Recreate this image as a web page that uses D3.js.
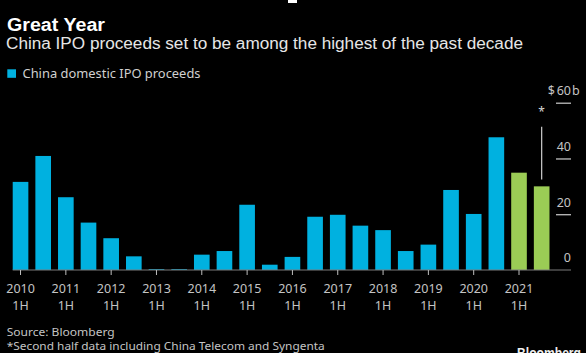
<!DOCTYPE html>
<html>
<head>
<meta charset="utf-8">
<script src="https://cdn.jsdelivr.net/npm/d3@7"></script>
<style>
  html, body { margin: 0; padding: 0; background: #000; }
  svg { display: block; font-family: "Noto Sans", "DejaVu Sans", sans-serif; }
</style>
</head>
<body>
<div id="chart"></div>
<script>
// half-year periods, 2010 1H .. 2021 2H
var years = ['2010', '2011', '2012', '2013', '2014', '2015', '2016', '2017', '2018', '2019', '2020', '2021'];
var halves = ['1H', '2H'];
// China domestic IPO proceeds, $ billions
var proceeds = [31.6, 40.9, 26.1, 17.0, 11.4, 4.9, 0.3, 0.3, 5.5, 6.8, 23.4, 1.9,
                4.7, 19.1, 19.8, 15.9, 14.3, 6.8, 9.1, 28.7, 20.1, 47.6, 34.9, 30.0];
// last two periods are drawn green (2021 + estimate)
var highlighted = ['2021 1H', '2021 2H'];
var yTicks = [0, 20, 40, 60];
// asterisk note over 2021 2H: line from..to, star on top
var noteRange = [32.5, 51.4];
var noteStar = 57.6;

var periods = [];
years.forEach(function(yr) {
  halves.forEach(function(h) { periods.push(yr + ' ' + h); });
});
var data = periods.map(function(p, i) { return { period: p, value: proceeds[i] }; });

var width = 586, height = 353;
var blue = '#00b1e0', green = '#9bcc55';
var labelGray = '#c4c4c4';

var svg = d3.select('#chart').append('svg')
  .attr('width', width)
  .attr('height', height)
  .style('background', '#000');

// scales
var x = d3.scaleBand()
  .domain(periods)
  .range([9.2, 553])
  .paddingInner(0.31)
  .paddingOuter(0.155);
var y = d3.scaleLinear()
  .domain([0, 60])
  .range([270, 102.7]);

// small mark at top edge
svg.append('rect').attr('x', 288).attr('y', 0).attr('width', 9).attr('height', 3).attr('fill', '#fff');

// headings
svg.append('text')
  .attr('x', 7).attr('y', 31)
  .attr('fill', '#fff')
  .style('font-family', '"Liberation Sans", Arial, sans-serif')
  .style('font-size', '18px').style('font-weight', 'bold')
  .attr('textLength', 98).attr('lengthAdjust', 'spacingAndGlyphs')
  .text('Great Year');
svg.append('text')
  .attr('x', 6).attr('y', 49.3)
  .attr('fill', '#e6e6e6')
  .style('font-family', '"Liberation Sans", Arial, sans-serif')
  .style('font-size', '16px')
  .attr('textLength', 517).attr('lengthAdjust', 'spacingAndGlyphs')
  .text('China IPO proceeds set to be among the highest of the past decade');

// legend
svg.append('rect')
  .attr('x', 7.3).attr('y', 69.3).attr('width', 8.7).attr('height', 8.5)
  .attr('fill', blue);
svg.append('text')
  .attr('x', 22.5).attr('y', 78.3)
  .attr('fill', '#d0d0d0')
  .style('font-size', '12.5px')
  .attr('textLength', 178).attr('lengthAdjust', 'spacingAndGlyphs')
  .text('China domestic IPO proceeds');

// bars
svg.append('g').attr('class', 'bars')
  .selectAll('rect').data(data)
  .enter()
  .append('rect')
  .attr('x', function(d) { return x(d.period); })
  .attr('width', x.bandwidth())
  .attr('y', function(d) { return y(d.value); })
  .attr('height', function(d) { return y(0) - y(d.value); })
  .attr('fill', function(d) { return highlighted.indexOf(d.period) >= 0 ? green : blue; });

// baseline
svg.append('line')
  .attr('x1', x(periods[0])).attr('x2', 571)
  .attr('y1', y(0)).attr('y2', y(0))
  .attr('stroke', '#7a7a7a').attr('stroke-width', 1.2);

// x axis: one tick per year at the 1H bar
var xAxis = d3.axisBottom(x)
  .tickValues(periods.filter(function(p) { return /1H$/.test(p); }))
  .tickSize(5)
  .tickFormat(function() { return ''; });
var gx = svg.append('g')
  .attr('transform', 'translate(0,' + y(0) + ')')
  .call(xAxis);
gx.select('.domain').remove();
gx.selectAll('.tick line').attr('stroke', '#bdbdbd');
gx.selectAll('.tick text').remove();
gx.selectAll('.tick').each(function(p) {
  var parts = p.split(' ');
  var g = d3.select(this);
  [0, 1].forEach(function(k) {
    g.append('text')
      .attr('x', 0).attr('y', k === 0 ? 23.3 : 40)
      .attr('fill', labelGray)
      .attr('text-anchor', 'middle')
      .style('font-size', '12.5px')
      .style('font-family', '"Noto Sans", sans-serif')
      .text(parts[k]);
  });
});

// y axis on the right: short lines with labels sitting above them
var yAxis = d3.axisLeft(y)
  .tickValues(yTicks)
  .tickSize(15)
  .tickFormat(d3.format('d'));
var gy = svg.append('g')
  .attr('transform', 'translate(571,0)')
  .call(yAxis);
gy.select('.domain').remove();
gy.selectAll('.tick line')
  .attr('stroke', '#cfcfcf')
  .attr('stroke-width', 1.2)
  .attr('display', function(d) { return d === 0 ? 'none' : null; });
gy.selectAll('.tick text')
  .attr('x', 0).attr('dy', null).attr('y', -8.2)
  .attr('text-anchor', 'end')
  .attr('fill', labelGray)
  .style('font-size', '12.5px')
  .style('font-family', '"Noto Sans", sans-serif');
var topTick = gy.selectAll('.tick').filter(function(d) { return d === 60; });
topTick.append('text')
  .attr('x', -16).attr('y', -8.2)
  .attr('text-anchor', 'end')
  .attr('fill', labelGray)
  .style('font-size', '12.5px')
  .style('font-family', '"Noto Sans", sans-serif')
  .text('$');
topTick.append('text')
  .attr('x', 1).attr('y', -8.2)
  .attr('text-anchor', 'start')
  .attr('fill', labelGray)
  .style('font-size', '12.5px')
  .style('font-family', '"Noto Sans", sans-serif')
  .text('b');

// asterisk note on the last bar
var noteX = x(periods[periods.length - 1]) + x.bandwidth() / 2;
svg.append('line')
  .attr('x1', noteX).attr('x2', noteX)
  .attr('y1', y(noteRange[0])).attr('y2', y(noteRange[1]))
  .attr('stroke', '#cfcfcf').attr('stroke-width', 1.2);
svg.append('text')
  .attr('x', noteX).attr('y', y(noteStar) + 7)
  .attr('text-anchor', 'middle')
  .attr('fill', '#d8d8d8')
  .style('font-size', '12px')
  .text('*');

// footer
svg.append('text')
  .attr('x', 6.7).attr('y', 335.5)
  .attr('fill', labelGray)
  .style('font-size', '11px')
  .attr('textLength', 108).attr('lengthAdjust', 'spacingAndGlyphs')
  .text('Source: Bloomberg');
svg.append('text')
  .attr('x', 6.7).attr('y', 350)
  .attr('fill', labelGray)
  .style('font-size', '11px')
  .attr('textLength', 318).attr('lengthAdjust', 'spacingAndGlyphs')
  .text('*Second half data including China Telecom and Syngenta');
svg.append('text')
  .attr('x', 517).attr('y', 358)
  .attr('fill', '#eee')
  .style('font-family', '"Liberation Sans", Arial, sans-serif')
  .style('font-size', '14px').style('font-weight', 'bold')
  .attr('textLength', 64).attr('lengthAdjust', 'spacingAndGlyphs')
  .text('Bloomberg');
</script>
</body>
</html>
